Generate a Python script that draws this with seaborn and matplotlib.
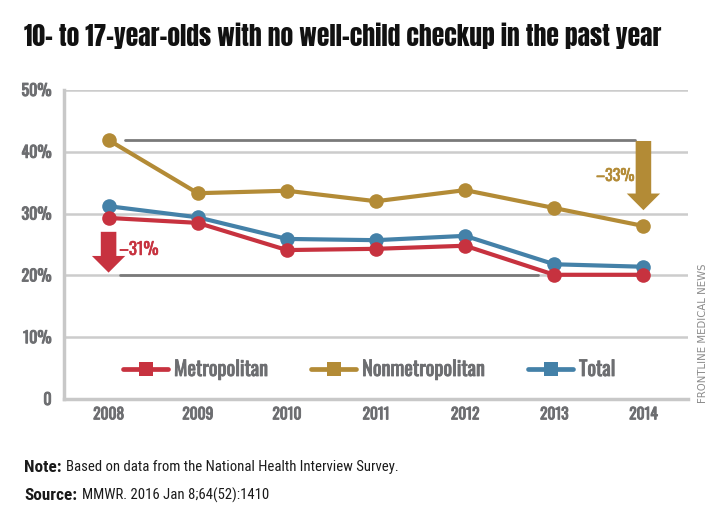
import matplotlib
matplotlib.use("Agg")
import matplotlib.pyplot as plt
import matplotlib.patheffects as pe
import seaborn as sns
import pandas as pd
from matplotlib.lines import Line2D
from matplotlib import font_manager

years = [2008, 2009, 2010, 2011, 2012, 2013, 2014]
metro = [29.3, 28.5, 24.1, 24.3, 24.8, 20.1, 20.1]
nonmetro = [41.9, 33.3, 33.7, 32.0, 33.8, 30.9, 28.0]
total = [31.2, 29.4, 25.9, 25.7, 26.4, 21.8, 21.4]
series_names = ["Metropolitan", "Nonmetropolitan", "Total"]
ytick_vals = [0, 10, 20, 30, 40, 50]
ytick_labels = ["0", "10%", "20%", "30%", "40%", "50%"]

sns.set_theme(style="white")
plt.rcParams['font.family'] = ['DejaVu Sans']

_files = {f.fname.split('/')[-1].lower(): f.fname for f in font_manager.fontManager.ttflist}

def find(*names, fallback_weight="normal"):
    for n in names:
        p = _files.get(n.lower())
        if p:
            return font_manager.FontProperties(fname=p)
    return font_manager.FontProperties(family="DejaVu Sans", weight=fallback_weight)

def fp_title():
    return find("Anton-Regular.ttf", "SairaExtraCondensed-Bold.ttf", "Oswald-SemiBold.ttf",
                "FjallaOne-Regular.ttf", "BarlowCondensed-Bold.ttf", fallback_weight="bold")

def fp_bold():
    return find("Oswald-Medium.ttf", "Oswald-Regular.ttf", "Oswald[wght].ttf",
                "SairaExtraCondensed-SemiBold.ttf", "BarlowCondensed-SemiBold.ttf", fallback_weight="bold")

def fp_note_b():
    return find("RobotoCondensed-Bold.ttf", "PTSansNarrow-Bold.ttf", "ArchivoNarrow-Bold.ttf",
                "BarlowSemiCondensed-Bold.ttf", "BarlowCondensed-SemiBold.ttf", fallback_weight="bold")

def fp_reg():
    return find("RobotoCondensed-Regular.ttf", "PTSansNarrow-Regular.ttf", "ArchivoNarrow-Regular.ttf",
                "BarlowSemiCondensed-Regular.ttf", "BarlowCondensed-Regular.ttf")

red = "#c7323f"
gold = "#b38b36"
blue = "#4481a8"
gray = "#6d6e71"
palette = {"Metropolitan": red, "Nonmetropolitan": gold, "Total": blue}

def thick(c, w=0.6):
    return [pe.withStroke(linewidth=w, foreground=c)]

df = pd.DataFrame({
    "year": years * 3,
    "value": metro + nonmetro + total,
    "series": ["Metropolitan"] * 7 + ["Nonmetropolitan"] * 7 + ["Total"] * 7,
})

fig = plt.figure(figsize=(7.2, 5.28), dpi=100)
ax = fig.add_axes([64/720, 1-399/528, (688-64)/720, (399-90)/528])
r = fig.canvas.get_renderer()

def fit(t, target_w):
    t.set_fontsize(10)
    w = t.get_window_extent(r).width
    t.set_fontsize(10 * target_w / w)
    return 10 * target_w / w

def fit_size(fp, s, target_w):
    tmp = fig.text(0, 0, s, fontproperties=fp)
    sz = fit(tmp, target_w)
    tmp.remove()
    return sz

ax.plot([2008.18, 2013.9], [nonmetro[0], nonmetro[0]], color="#7a7a7a", lw=2, zorder=2)
ax.plot([2008.13, 2012.82], [metro[-1] - 0.1, metro[-1] - 0.1], color="#7a7a7a", lw=2, zorder=2)

for name in ["Nonmetropolitan", "Total", "Metropolitan"]:
    sub = df[df.series == name]
    sns.lineplot(data=sub, x="year", y="value", color=palette[name], lw=3.0,
                 marker="o", markersize=10.5, markeredgewidth=0, ax=ax, zorder=4, legend=False)

ax.annotate("", xy=(2008, 20.0), xytext=(2008, 27.5),
            arrowprops=dict(arrowstyle="simple,head_width=1.5,head_length=0.75,tail_width=0.7",
                            color=red, lw=0, mutation_scale=16), zorder=5)
t31 = ax.text(2008.12, 24.2, "\u201331%", color=red, va="center", ha="left", fontproperties=fp_bold())
fit(t31, 39)
t31.set_path_effects(thick(red, 0.4))
ax.annotate("", xy=(2014, 30.1), xytext=(2014, 42.2),
            arrowprops=dict(arrowstyle="simple,head_width=1.5,head_length=0.75,tail_width=0.7",
                            color=gold, lw=0, mutation_scale=16), zorder=5)
t33 = ax.text(2013.9, 36.0, "\u201333%", color=gold, va="center", ha="right", fontproperties=fp_bold())
fit(t33, 38)
t33.set_path_effects(thick(gold, 0.4))

ax.set_xlim(2007.5, 2014.5)
ax.set_ylim(0, 50)
ax.set_xticks(years)
ax.set_xticklabels([str(y) for y in years])
ax.set_yticks(ytick_vals)
ax.set_yticklabels(ytick_labels)
xs = fit_size(fp_bold(), "2008", 31)
ys = fit_size(fp_bold(), "50%", 30)
for lab in ax.get_xticklabels():
    lab.set_fontproperties(fp_bold()); lab.set_fontsize(xs); lab.set_color(gray)
    lab.set_path_effects(thick(gray, 0.7))
for lab in ax.get_yticklabels():
    lab.set_fontproperties(fp_bold()); lab.set_fontsize(ys); lab.set_color(gray)
    lab.set_path_effects(thick(gray, 0.7))
ax.tick_params(axis="both", length=0)
ax.tick_params(axis="x", pad=6)
ax.tick_params(axis="y", pad=9)
ax.set_xlabel("")
ax.set_ylabel("")
ax.grid(axis="y", color="#cccccc", lw=1.8, zorder=1)
ax.grid(axis="x", visible=False)
for s in ["top", "right"]:
    ax.spines[s].set_visible(False)
for s in ["left", "bottom"]:
    ax.spines[s].set_color("#c8c8c8")
    ax.spines[s].set_linewidth(2.5)

# legend
ls = fit_size(fp_bold(), "Metropolitan", 94)
fs_px = ls * 100 / 72
handles = [Line2D([0], [0], color=palette[n], lw=3.4, marker="s", markersize=10, markeredgewidth=0)
           for n in series_names]
lp = fp_bold(); lp.set_size(ls)
leg = ax.legend(handles, series_names, loc="center left", bbox_to_anchor=((123-64)/624, (399-369)/309),
                ncol=3, frameon=False, prop=lp, handlelength=45/fs_px, columnspacing=43/fs_px,
                handletextpad=6/fs_px, borderpad=0, borderaxespad=0)
for t in leg.get_texts():
    t.set_color(gray)
    t.set_path_effects(thick(gray, 0.6))

title = fig.text(24/720, 1-36/528, "10- to 17-year-olds with no well-child checkup in the past year",
                 color="#111111", va="center", ha="left", fontproperties=fp_title())
fit(title, 638)

note_b = fig.text(24/720, 1-467/528, "Note:", color="#1a1a1a", va="center", ha="left",
                  fontproperties=fp_note_b())
fit(note_b, 37)
src_b = fig.text(24/720, 1-495/528, "Source:", color="#1a1a1a", va="center", ha="left",
                 fontproperties=fp_note_b())
src_b.set_fontsize(note_b.get_fontsize())
nb = note_b.get_window_extent(r)
sb = src_b.get_window_extent(r)
nt = fig.text((nb.x1 + 4)/720, 1-467/528, "Based on data from the National Health Interview Survey.",
              color="#1a1a1a", va="center", ha="left", fontproperties=fp_reg())
fsz = fit(nt, 396 - nb.x1 - 4)
st = fig.text((sb.x1 + 5)/720, 1-495/528, "MMWR. 2016 Jan 8;64(52):1410",
              color="#1a1a1a", va="center", ha="left", fontproperties=fp_reg())
st.set_fontsize(fsz)

fig.text(703/720, 1-333/528, "FRONTLINE MEDICAL NEWS", rotation=90, fontsize=7.3, color="#8a8a8a",
         va="center", ha="center", family="DejaVu Sans")

fig.savefig("out.png", dpi=100)
